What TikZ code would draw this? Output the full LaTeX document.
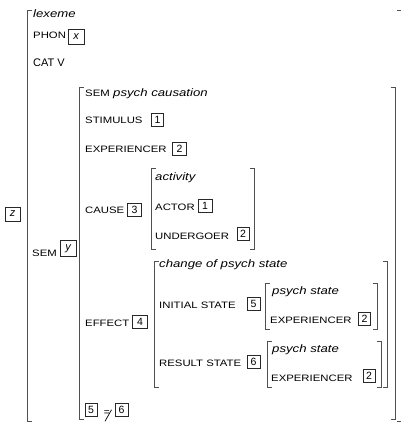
\documentclass[tikz,border=0pt]{standalone}
\usepackage{fontspec}
\setmainfont{Liberation Sans}
\newfontfamily\featfont[FakeStretch=1.22]{Liberation Sans}
\newfontfamily\valfont[FakeStretch=1.22]{Liberation Sans}
\definecolor{bracketgray}{RGB}{80,80,80}
\definecolor{tagline}{RGB}{40,40,40}

% a pair of AVM brackets: left x, top y, right x, bottom y
\newcommand\avmbrackets[4]{%
  \draw[avm] (#1+4.5,#2) -- (#1,#2) -- (#1,#4) -- (#1+4.5,#4);
  \draw[avm] (#3-4.5,#2) -- (#3,#2) -- (#3,#4) -- (#3-4.5,#4);}

\begin{document}
\begin{tikzpicture}[x=1pt,y=-1pt,
  feat/.style={anchor=base west, inner sep=0pt, font=\featfont\fontsize{9.3}{10}\selectfont},
  val/.style={anchor=base west, inner sep=0pt, font=\valfont\itshape\fontsize{10.8}{12}\selectfont},
  plain/.style={anchor=base west, inner sep=0pt, font=\fontsize{11}{12}\selectfont},
  tag/.style={draw=tagline, line width=0.8pt, inner sep=0pt, minimum width=12pt,
              minimum height=13pt, font=\fontsize{10.5}{12}\selectfont},
  vartag/.style={tag, minimum width=16pt, minimum height=15pt, font=\itshape\fontsize{11}{12}\selectfont},
  avm/.style={draw=bracketgray, line width=0.9pt}
]
\useasboundingbox (0,0) rectangle (401,423);

% brackets
\avmbrackets{27}{10}{401.5}{421.5}
\avmbrackets{79}{87}{395}{419}
\avmbrackets{151}{168}{254}{249}
\avmbrackets{154}{261}{387}{387.5}
\avmbrackets{265}{283}{377}{329}
\avmbrackets{267}{341}{381}{387.5}

% outermost structure
\node[vartag, minimum width=15pt, minimum height=14pt] (ztag) at (12.5,214) {z};
\node[val] (lexeme) at (33,17) {lexeme};
\node[feat] (phon) at (33,38.5) {PHON};
\node[vartag] (xtag) at (76,36.5) {x};
\node[plain] (cat) at (33,66) {CAT V};
\node[feat] (sem) at (32,256) {SEM};
\node[vartag, minimum height=16pt] (ytag) at (68,248.5) {y};

% semantics
\node[feat] (semtype) at (85,96.5) {SEM};
\node[val] (semval) at (113,96.5) {psych causation};
\node[feat] (stim) at (85,123.5) {STIMULUS};
\node[tag] (stimtag) at (157.5,120) {1};
\node[feat] (exp) at (85,152.5) {EXPERIENCER};
\node[tag, minimum width=14pt] (exptag) at (179.5,148.5) {2};

% cause
\node[feat] (cause) at (85,213.5) {CAUSE};
\node[tag, minimum width=14pt] (causetag) at (134.5,209.5) {3};
\node[val] (activity) at (155,180) {activity};
\node[feat] (actor) at (155,210) {ACTOR};
\node[tag, minimum width=14pt] (actortag) at (205,206) {1};
\node[feat] (undergoer) at (155,239) {UNDERGOER};
\node[tag] (undertag) at (243,234) {2};

% effect
\node[feat] (effect) at (85,326.5) {EFFECT};
\node[tag, minimum width=15pt] (effecttag) at (140,321.5) {4};
\node[val] (change) at (159,267) {change of psych state};
\node[feat] (initial) at (159,308) {INITIAL STATE};
\node[tag, minimum width=13pt] (inittag) at (253.5,303.5) {5};
\node[val] (initstate) at (272,294.5) {psych state};
\node[feat] (initexp) at (270,323) {EXPERIENCER};
\node[tag] (initexptag) at (364.5,318.5) {2};
\node[feat] (result) at (159,366.5) {RESULT STATE};
\node[tag, minimum width=13pt] (resulttag) at (253.5,361.5) {6};
\node[val] (resstate) at (272,352.5) {psych state};
\node[feat] (resexp) at (271,381.5) {EXPERIENCER};
\node[tag] (resexptag) at (369,375.5) {2};

% inequality constraint
\node[tag] (five) at (91,409.5) {5};
\node[inner sep=0pt, font=\fontsize{10}{12}\selectfont] (neq) at (106.8,413.3) {=};
\draw[line width=0.7pt] (neq.center) ++(-1.8,8) -- ++(6.5,-11.5);
\node[tag, minimum width=13pt] (six) at (121.5,409.5) {6};
\end{tikzpicture}
\end{document}
